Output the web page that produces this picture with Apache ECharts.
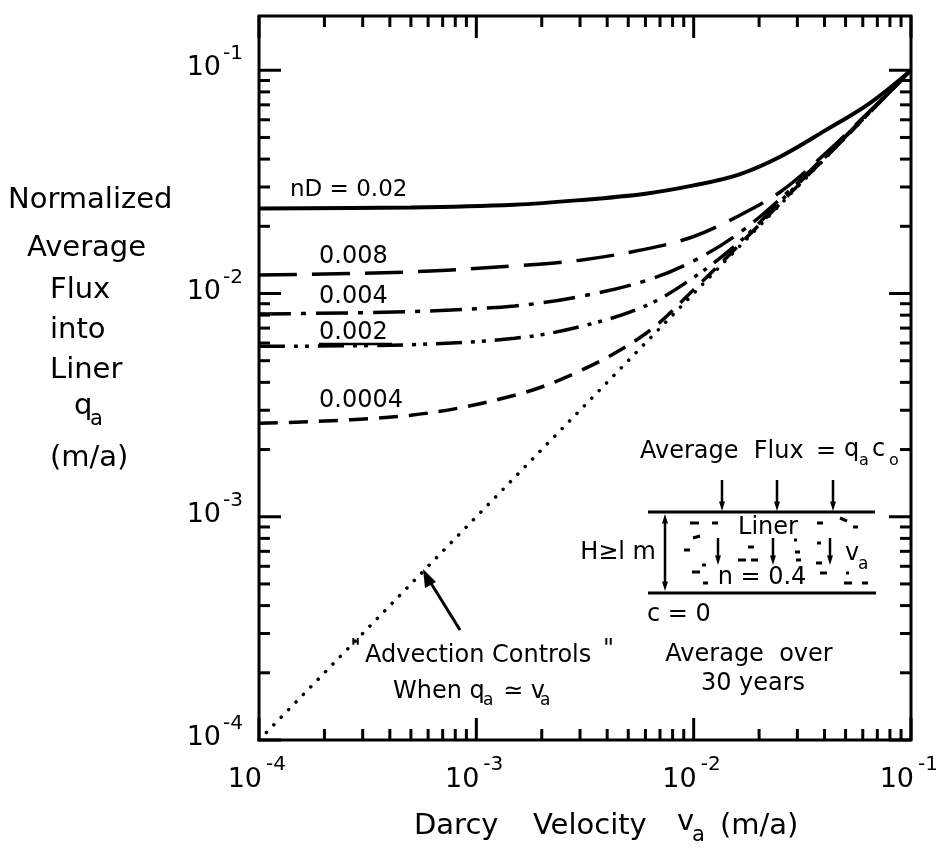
<!DOCTYPE html>
<html>
<head>
<meta charset="utf-8">
<script src="https://cdn.jsdelivr.net/npm/echarts@6/dist/echarts.min.js"></script>
<style>
html, body { margin: 0; padding: 0; background: #fff; }
#chart { width: 936px; height: 848px; }
</style>
</head>
<body>
<div id="chart"></div>
<script>
// Darcy velocity v_a (m/a) sample points along the curves
var velocity = [1e-4, 5e-4, 1.5e-3, 3e-3, 6e-3, 1e-2, 1.6e-2, 2.5e-2, 4e-2, 6.5e-2, 1e-1];

// normalized average flux q_a (m/a), one array per nD value
var fluxND020 = [0.0240, 0.0243, 0.0250, 0.0262, 0.0280, 0.0305, 0.0340, 0.0410, 0.0535, 0.0715, 0.1];
var fluxND008 = [0.0121, 0.0125, 0.0133, 0.0141, 0.0158, 0.0180, 0.0222, 0.0285, 0.0420, 0.0660, 0.1];
var fluxND004 = [0.0081, 0.0083, 0.0088, 0.0097, 0.0114, 0.0140, 0.0185, 0.0265, 0.0410, 0.0655, 0.1];
var fluxND002 = [0.0058, 0.0059, 0.0063, 0.0071, 0.0088, 0.0118, 0.0168, 0.0258, 0.0405, 0.0652, 0.1];
var fluxND0004 = [0.00262, 0.00285, 0.0035, 0.0045, 0.0066, 0.0104, 0.0163, 0.0253, 0.0402, 0.0651, 0.1];

// advection line q_a = v_a
var advectionV = [1e-4, 1e-1];
var advectionQ = [1e-4, 1e-1];

// axis ticks
var decades = [1e-4, 1e-3, 1e-2, 1e-1];
var decadeExp = ['-4', '-3', '-2', '-1'];
var minorMult = [2, 3, 4, 5, 6, 7, 8, 9];

var FONT = 'DejaVu Sans';

function pairs(xs, ys) {
    return xs.map(function (x, i) { return [x, ys[i]]; });
}

// tick list: [value, dummy, isMajor]
var tickData = [];
decades.forEach(function (d, i) {
    tickData.push([d, 1e-4, 1]);
    if (i < decades.length - 1) {
        minorMult.forEach(function (m) { tickData.push([d * m, 1e-4, 0]); });
    }
});

var labelData = decades.map(function (d, i) { return [d, d, i]; });

function renderTicks(params, api) {
    var cs = params.coordSys;
    var v = api.value(0);
    var major = api.value(2) === 1;
    var len = major ? 22 : 11;
    var px = api.coord([v, 1e-4])[0];
    var py = api.coord([1e-4, v])[1];
    var l = cs.x, r = cs.x + cs.width, t = cs.y, b = cs.y + cs.height;
    var st = { stroke: '#000', lineWidth: 3 };
    return {
        type: 'group',
        children: [
            { type: 'line', shape: { x1: px, y1: b, x2: px, y2: b - len }, style: st },
            { type: 'line', shape: { x1: px, y1: t, x2: px, y2: t + len }, style: st },
            { type: 'line', shape: { x1: l, y1: py, x2: l + len, y2: py }, style: st },
            { type: 'line', shape: { x1: r, y1: py, x2: r - len, y2: py }, style: st }
        ]
    };
}

function renderLabels(params, api) {
    var cs = params.coordSys;
    var v = api.value(0);
    var exp = decadeExp[api.value(2)];
    var px = api.coord([v, 1e-4])[0];
    var py = api.coord([1e-4, v])[1];
    var b = cs.y + cs.height;
    var big = '27px "' + FONT + '"';
    var sup = '20px "' + FONT + '"';
    return {
        type: 'group',
        children: [
            { type: 'text', x: px + 3, y: b + 40, style: { text: '10', font: big, fill: '#000', align: 'right', verticalAlign: 'middle' } },
            { type: 'text', x: px + 7, y: b + 25, style: { text: exp, font: sup, fill: '#000', align: 'left', verticalAlign: 'middle' } },
            { type: 'text', x: cs.x - 38, y: py - 2, style: { text: '10', font: big, fill: '#000', align: 'right', verticalAlign: 'middle' } },
            { type: 'text', x: cs.x - 36, y: py - 16, style: { text: exp, font: sup, fill: '#000', align: 'left', verticalAlign: 'middle' } }
        ]
    };
}

function curve(name, data, dash, width) {
    return {
        name: name,
        type: 'line',
        data: data,
        showSymbol: false,
        smooth: 0.35,
        lineStyle: { color: '#000', width: width || 3.5, type: dash, cap: 'butt' },
        z: 3
    };
}

function txt(x, y, s, size, align) {
    return {
        type: 'text', x: x, y: y,
        style: { text: s, font: (size || 24) + 'px "' + FONT + '"', fill: '#000', align: align || 'left', verticalAlign: 'middle' }
    };
}
function seg(x1, y1, x2, y2, w) {
    return { type: 'line', shape: { x1: x1, y1: y1, x2: x2, y2: y2 }, style: { stroke: '#000', lineWidth: w || 3 } };
}
function head(x, y, dir, s) {
    // small filled arrow head, dir: 'down' | 'up'
    s = s || 6;
    var pts = dir === 'down' ? [[x - s / 2, y - s * 1.6], [x + s / 2, y - s * 1.6], [x, y]]
                             : [[x - s / 2, y + s * 1.6], [x + s / 2, y + s * 1.6], [x, y]];
    return { type: 'polygon', shape: { points: pts }, style: { fill: '#000' } };
}

var myChart = echarts.init(document.getElementById('chart'));

var graphics = [
    // y axis title
    txt(8, 200, 'Normalized', 29),
    txt(27, 248, 'Average', 29),
    txt(50, 290, 'Flux', 29),
    txt(50, 330, 'into', 29),
    txt(50, 370, 'Liner', 29),
    txt(74, 406, 'q', 29),
    txt(90, 420, 'a', 21),
    txt(50, 458, '(m/a)', 29),
    // x axis title
    txt(414, 826, 'Darcy', 29),
    txt(533, 826, 'Velocity', 29),
    txt(677, 822, 'v', 29),
    txt(692, 836, 'a', 21),
    txt(720, 826, '(m/a)', 29),
    // curve labels
    txt(290, 190, 'nD = 0.02', 23),
    txt(319, 257, '0.008', 24),
    txt(319, 297, '0.004', 24),
    txt(319, 333, '0.002', 24),
    seg(319, 344, 392, 344, 2.5),
    txt(319, 401, '0.0004', 24),
    // advection note
    txt(350, 650, '"', 24),
    txt(365, 656, 'Advection Controls', 24),
    txt(603, 650, '"', 24),
    txt(393, 692, 'When q', 24),
    txt(483, 701, 'a', 17),
    txt(503, 692, '\u2243 v', 24),
    txt(540, 701, 'a', 17),
    seg(460, 630, 429, 580, 3),
    { type: 'polygon', shape: { points: [[423, 569], [436, 582], [425, 588]] }, style: { fill: '#000' } },
    // inset
    txt(640, 452, 'Average  Flux', 24),
    txt(826, 452, '=', 24, 'center'),
    txt(844, 450, 'q', 24),
    txt(859, 461, 'a', 16),
    txt(872, 450, 'c', 24),
    txt(889, 461, 'o', 16),
    seg(722, 480, 722, 503, 2.5), head(722, 511, 'down'),
    seg(777, 480, 777, 503, 2.5), head(777, 511, 'down'),
    seg(833, 480, 833, 503, 2.5), head(833, 511, 'down'),
    seg(648, 512, 875, 512, 3),
    seg(648, 593, 876, 593, 3),
    seg(665, 522, 665, 583, 2.5), head(665, 514, 'up'), head(665, 591, 'down'),
    txt(656, 553, 'H\u2265l m', 24, 'right'),
    txt(768, 528, 'Liner', 24, 'center'),
    txt(762, 578, 'n = 0.4', 24, 'center'),
    seg(718, 538, 718, 557, 2.5), head(718, 565, 'down'),
    seg(773, 538, 773, 557, 2.5), head(773, 565, 'down'),
    seg(830, 538, 830, 557, 2.5), head(830, 565, 'down'),
    txt(845, 554, 'v', 24),
    txt(858, 565, 'a', 17),
    // liner hatching dashes
    seg(690, 523, 699, 523), seg(712, 523, 718, 523), seg(817, 523, 823, 523),
    seg(840, 518, 847, 521), seg(853, 527, 858, 527),
    seg(693, 538, 700, 536), seg(684, 550, 690, 550), seg(748, 547, 754, 547),
    seg(794, 540, 797, 540), seg(795, 552, 800, 552), seg(817, 543, 821, 543),
    seg(738, 560, 746, 560), seg(751, 560, 758, 560), seg(796, 560, 801, 560),
    seg(816, 563, 822, 563), seg(692, 572, 700, 572), seg(702, 565, 706, 565),
    seg(703, 583, 708, 583), seg(820, 573, 827, 573), seg(846, 573, 849, 573),
    seg(844, 583, 852, 583), seg(862, 583, 868, 583),
    txt(647, 615, 'c = 0', 24),
    txt(749, 655, 'Average  over', 24, 'center'),
    txt(753, 684, '30 years', 24, 'center')
];

option = {
    animation: false,
    backgroundColor: '#fff',
    grid: {
        left: 259, right: 25, top: 16, bottom: 108,
        show: true, borderColor: '#000', borderWidth: 3, backgroundColor: 'transparent'
    },
    xAxis: {
        type: 'log', logBase: 10, min: 1e-4, max: 1e-1,
        axisLine: { show: false }, axisTick: { show: false },
        axisLabel: { show: false }, splitLine: { show: false }
    },
    yAxis: {
        type: 'log', logBase: 10, min: 1e-4, max: 0.175,
        axisLine: { show: false }, axisTick: { show: false },
        axisLabel: { show: false }, splitLine: { show: false }
    },
    series: [
        curve('nD = 0.02', pairs(velocity, fluxND020), 'solid', 4),
        curve('0.008', pairs(velocity, fluxND008), [38, 15]),
        curve('0.004', pairs(velocity, fluxND004), [32, 10, 5, 10]),
        curve('0.002', pairs(velocity, fluxND002), [26, 9, 4, 7, 4, 9]),
        curve('0.0004', pairs(velocity, fluxND0004), [19, 11]),
        {
            name: 'q = v', type: 'line', data: pairs(advectionV, advectionQ), showSymbol: false,
            lineStyle: { color: '#000', width: 3.5, type: [0.1, 10.5], cap: 'round' }, z: 2
        },
        {
            type: 'custom', renderItem: renderTicks, data: tickData, silent: true, z: 4,
            encode: { x: 0, y: 1 }
        },
        {
            type: 'custom', renderItem: renderLabels, data: labelData, silent: true, z: 4,
            encode: { x: 0, y: 1 }
        }
    ],
    graphic: graphics
};

myChart.setOption(option, true);
</script>
</body>
</html>
